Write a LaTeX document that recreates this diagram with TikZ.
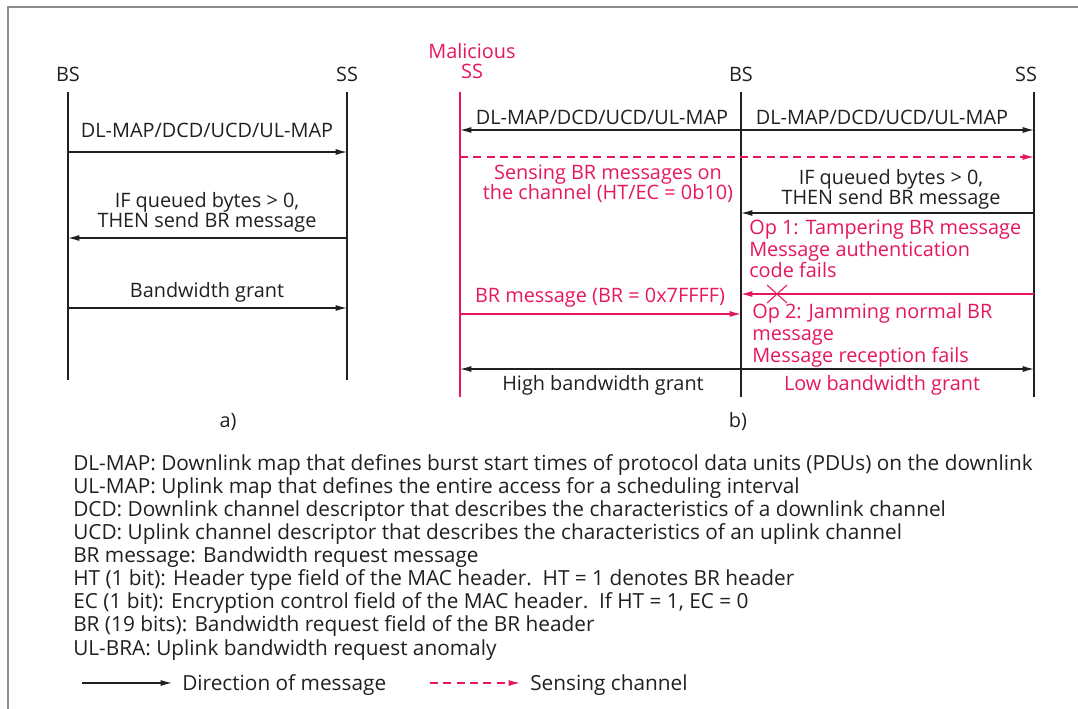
\documentclass[tikz,border=0pt]{standalone}
\usepackage{fontspec}
\setmainfont{Open Sans}
\newfontfamily\legendfont{Open Sans}
\usetikzlibrary{arrows.meta}
\definecolor{ink}{RGB}{35,31,32}
\definecolor{malpink}{RGB}{230,23,92}
\definecolor{framegray}{RGB}{140,140,140}
\begin{document}
\begin{tikzpicture}[x=0.75pt, y=-0.75pt,
  lbl/.style={anchor=base, inner sep=0, text=ink, align=center, font=\fontsize{14.9}{15.6}\selectfont},
  plbl/.style={lbl, text=malpink},
  oplbl/.style={anchor=base west, inner sep=0, text=malpink, align=left, font=\fontsize{14.9}{16.2}\selectfont},
  legend/.style={anchor=base west, inner sep=0, text=ink, align=left, font=\legendfont\fontsize{15.6}{17.3}\selectfont},
  life/.style={line width=2.2pt, draw=ink},
  plife/.style={life, draw=malpink},
  msg/.style={-{Latex[length=8.5pt,width=4.5pt]}, line width=0.9pt, draw=ink},
  pmsg/.style={msg, draw=malpink},
  sense/.style={pmsg, dash pattern=on 6pt off 4pt}
]
\useasboundingbox (0,0) rectangle (1078,709);
\draw[framegray, line width=1.5pt] (8,709) -- (8,7) -- (1078,7);

\node[lbl] (bsA) at (68,82) {BS};
\node[lbl] (ssA) at (347,82) {SS};
\coordinate (bsAtop) at (68,92);
\coordinate (bsAbot) at (68,380);
\coordinate (ssAtop) at (347,92);
\coordinate (ssAbot) at (347,380);
\draw[life] (bsAtop) -- (bsAbot);
\draw[life] (ssAtop) -- (ssAbot);

\coordinate (a1) at (68,152);
\coordinate (b1) at (347,152);
\coordinate (a2) at (68,238);
\coordinate (b2) at (347,238);
\coordinate (a3) at (68,308);
\coordinate (b3) at (347,308);
\node[lbl] (mapA) at (207,138) {DL-MAP/DCD/UCD/UL-MAP};
\node[lbl] (reqA) at (207,228) {IF queued bytes > 0,\\THEN send BR message};
\node[lbl] (grantA) at (207,298) {Bandwidth grant};
\draw[msg] (a1) -- (b1);
\draw[msg] (b2) -- (a2);
\draw[msg] (a3) -- (b3);
\node[lbl] (capA) at (228,427) {a)};

\node[plbl] (malB) at (472,79) {Malicious\\SS};
\node[lbl] (bsB) at (741,82) {BS};
\node[lbl] (ssB) at (1026,82) {SS};
\coordinate (maltop) at (460,92);
\coordinate (malbot) at (460,397);
\coordinate (bsBtop) at (741,92);
\coordinate (bsBbot) at (741,397);
\coordinate (ssBtop) at (1034,92);
\coordinate (ssBbot) at (1034,397);
\draw[plife] (maltop) -- (malbot);
\draw[life] (bsBtop) -- (bsBbot);
\draw[life] (ssBtop) -- (ssBbot);

\coordinate (m1) at (460,130);
\coordinate (c1) at (741,130);
\coordinate (d1) at (1034,130);
\draw[msg] (c1) -- (m1);
\draw[msg] (c1) -- (d1);
\node[lbl] (mapB1) at (602,125) {DL-MAP/DCD/UCD/UL-MAP};
\node[lbl] (mapB2) at (882,125) {DL-MAP/DCD/UCD/UL-MAP};

\coordinate (m2) at (460,157);
\coordinate (d2) at (1034,157);
\draw[sense] (m2) -- (d2);
\node[plbl] (sensing) at (608,200) {Sensing BR messages on\\the channel (HT/EC = 0b10)};
\node[lbl] (reqB) at (891,205) {IF queued bytes > 0,\\THEN send BR message};

\coordinate (c3) at (741,213);
\coordinate (d3) at (1034,213);
\draw[msg] (d3) -- (c3);
\node[oplbl] (op1) at (749,278) {Op 1: Tampering BR message\\Message authentication\\code fails};

\coordinate (c4) at (741,294);
\coordinate (d4) at (1034,294);
\draw[pmsg] (d4) -- (c4);
\coordinate (jam) at (777,294);
\draw[malpink, line width=0.8pt] ([shift={(-10,-9)}]jam) -- ([shift={(10,9)}]jam)
  ([shift={(-10,9)}]jam) -- ([shift={(10,-9)}]jam);
\node[plbl] (fake) at (600,303) {BR message (BR = 0x7FFFF)};

\coordinate (m5) at (460,314);
\coordinate (c5) at (741,314);
\draw[pmsg] (m5) -- (c5);
\node[oplbl] (op2) at (752,362) {Op 2: Jamming normal BR\\message\\Message reception fails};

\coordinate (m6) at (460,369);
\coordinate (c6) at (741,369);
\coordinate (d6) at (1034,369);
\draw[msg] (c6) -- (m6);
\draw[msg] (c6) -- (d6);
\node[lbl] (high) at (603,390) {High bandwidth grant};
\node[plbl] (low) at (882,390) {Low bandwidth grant};
\node[lbl] (capB) at (738,427) {b)};

\node[legend] (terms) at (73,655) {DL-MAP: Downlink map that defines burst start times of protocol data units (PDUs) on the downlink\\
UL-MAP: Uplink map that defines the entire access for a scheduling interval\\
DCD: Downlink channel descriptor that describes the characteristics of a downlink channel\\
UCD: Uplink channel descriptor that describes the characteristics of an uplink channel\\
BR message: Bandwidth request message\\
HT (1 bit): Header type field of the MAC header.\ \ HT = 1 denotes BR header\\
EC (1 bit): Encryption control field of the MAC header.\ \ If HT = 1, EC = 0\\
BR (19 bits): Bandwidth request field of the BR header\\
UL-BRA: Uplink bandwidth request anomaly};

\coordinate (k1) at (82,683);
\coordinate (k2) at (172,683);
\draw[msg] (k1) -- (k2);
\node[legend] (keymsg) at (182,690) {Direction of message};
\coordinate (k3) at (430,683);
\coordinate (k4) at (520,683);
\draw[sense] (k3) -- (k4);
\node[legend] (keysense) at (530,690) {Sensing channel};
\end{tikzpicture}
\end{document}
